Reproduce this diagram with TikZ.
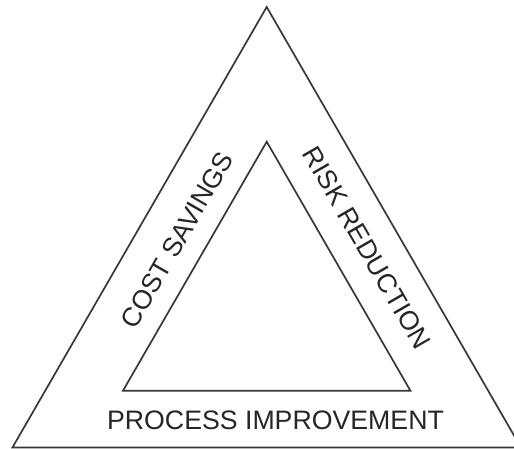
\documentclass[tikz,border=0pt]{standalone}
\usepackage{fontspec}
\setmainfont{Liberation Sans}
\begin{document}
\begin{tikzpicture}[x=1pt,y=1pt,
  edge/.style={draw=black!78, line width=1.7pt, line join=miter},
  label/.style={text=black!85, font=\fontsize{26.7}{26.7}\selectfont, inner sep=0pt}]
\useasboundingbox (0,0) rectangle (514,448);
\clip (0,0) rectangle (514,448);
% outer triangle
\coordinate (oa) at (266.7,441);
\coordinate (ol) at (12.5,0.6);
\coordinate (or) at (520.9,0.6);
\draw[edge] (oa) -- (ol) -- (or) -- cycle;
% inner triangle
\coordinate (ia) at (266.7,306.3);
\coordinate (il) at (123,57.3);
\coordinate (ir) at (410.4,57.3);
\draw[edge] (ia) -- (il) -- (ir) -- cycle;
% side labels
\node[label] (pi) at (275.5,28) {PROCESS IMPROVEMENT};
\node[label, rotate=60] (cs) at (177,208) {COST SAVINGS};
\node[label, rotate=-60] (rr) at (367,200) {RISK REDUCTION};
\end{tikzpicture}
\end{document}
